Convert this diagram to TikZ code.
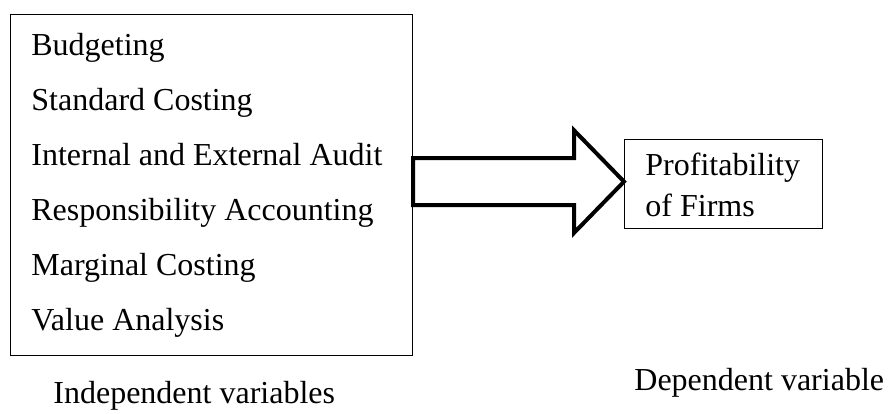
\documentclass[tikz,border=0pt]{standalone}
\usepackage{fontspec}
\setmainfont{Liberation Serif}
\usetikzlibrary{calc}

\begin{document}
\begin{tikzpicture}[x=0.5pt,y=-0.5pt,
    box/.style={draw,semithick,inner sep=0pt,anchor=north west},
    item/.style={anchor=base west,inner sep=0pt,font=\fontsize{16pt}{20.5pt}\selectfont},
    bigarrow/.style={draw,line width=2pt,miter limit=10}]
        \useasboundingbox (0,0) rectangle (888,413);
        % boxes
        \node[box,minimum width=201pt,minimum height=170.5pt] (lbox) at (10,14) {};
        \node[box,minimum width=99pt,minimum height=44.5pt] (rbox) at (624,139) {};
        % list of variables
        \foreach \i/\t in {1/Budgeting,2/Standard Costing,3/Internal and External Audit,
                4/Responsibility Accounting,5/Marginal Costing,6/Value Analysis}
            \node[item] (var\i) at (31,55*\i) {\t};
        \node[item] (prof) at (645,175) {Profitability};
        \node[item] (firms) at (645,216) {of Firms};
        % block arrow from left box to right box
        \coordinate (tip) at ($(rbox.west)+(0,-2.5)$);
        \coordinate (tail) at (lbox.east |- tip);
        \draw[bigarrow] ($(tail)+(0,-23.6)$) -- ($(tip)+(-50,-23.6)$) -- ($(tip)+(-50,-51.3)$)
            -- (tip) -- ($(tip)+(-50,51.3)$) -- ($(tip)+(-50,23.6)$) -- ($(tail)+(0,23.6)$) -- cycle;
        % captions
        \node[item] (indep) at (53,403) {Independent variables};
        \node[item] (dep) at (634,390) {Dependent variable};
\end{tikzpicture}
\end{document}
